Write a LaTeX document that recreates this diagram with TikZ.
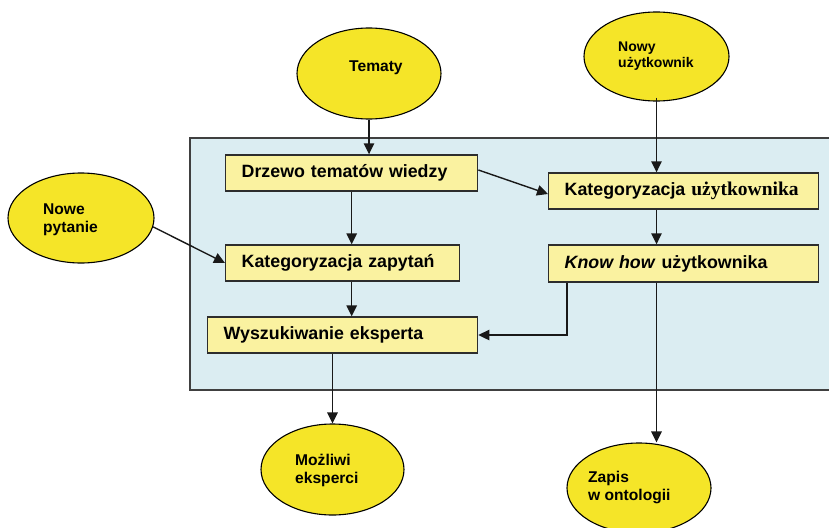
\documentclass[tikz,border=0pt]{standalone}
\usepackage{fontspec}
\setmainfont{Liberation Sans}
\newfontfamily\timesfont{Liberation Serif}
\usetikzlibrary{arrows.meta,shapes.geometric}

\definecolor{panelfill}{RGB}{219,237,242}
\definecolor{panelline}{RGB}{64,64,64}
\definecolor{boxfill}{RGB}{250,242,160}
\definecolor{boxline}{RGB}{45,45,45}
\definecolor{ovalfill}{RGB}{245,229,40}

\tikzset{
  panel/.style={draw=panelline, fill=panelfill, line width=1.5pt, anchor=north west, inner sep=0pt},
  stepbox/.style={draw=boxline, fill=boxfill, line width=1.4pt, anchor=west,
    minimum height=36pt, inner xsep=16pt, inner ysep=0pt, align=left,
    font=\bfseries\fontsize{17.8}{20}\selectfont},
  oval/.style={ellipse, draw=black, fill=ovalfill, line width=1.1pt, inner sep=0pt},
  % multi-line labels are placed by the baseline of their last line
  ovaltext/.style={anchor=base west, inner sep=0pt, align=left,
    font=\bfseries\fontsize{15.6}{18}\selectfont},
  arr/.style={draw=black!90, line width=1.4pt, -{Triangle[length=11pt,width=10.5pt]}},
}

\begin{document}
\begin{tikzpicture}[x=1pt, y=-1pt]
  \useasboundingbox (0,0) rectangle (829,527);

  % background panel of the system
  \node[panel, minimum width=660pt, minimum height=252pt] (panel) at (189,137) {};

  % process steps
  \node[stepbox, text width=220pt] (drzewo) at (225,173) {Drzewo tematów wiedzy};
  \node[stepbox, text width=202pt] (katzap) at (225,263) {Kategoryzacja zapytań};
  \node[stepbox, text width=238pt] (wysz) at (207,335) {Wyszukiwanie eksperta};
  \node[stepbox, text width=238pt] (katuz) at (548,191)
    {Kategoryzacja {\timesfont\fontsize{19.5}{20}\selectfont użytkownika}};
  \node[stepbox, text width=238pt, minimum height=37pt] (know) at (548,263.5)
    {\textit{Know how} użytkownika};

  % inputs and outputs
  \node[oval, minimum width=144pt, minimum height=91pt] (tematy) at (369,73.5) {};
  \node[ovaltext] (tematyt) at (349,71) {Tematy};

  \node[oval, minimum width=145pt, minimum height=89pt] (nowy) at (656.5,56.5) {};
  \node[ovaltext, font=\bfseries\fontsize{14}{15.5}\selectfont] (nowyt) at (618,67) {Nowy\\użytkownik};

  \node[oval, minimum width=146pt, minimum height=90pt] (nowe) at (81,218) {};
  \node[ovaltext] (nowet) at (43,232) {Nowe\\pytanie};

  \node[oval, minimum width=143pt, minimum height=91pt] (mozliwi) at (332.5,469.5) {};
  \node[ovaltext] (mozliwit) at (295,483) {Możliwi\\eksperci};

  \node[oval, minimum width=144pt, minimum height=90pt] (zapis) at (639,488) {};
  \node[ovaltext] (zapist) at (588,500) {Zapis\\w ontologii};

  % connectors
  \draw[arr] (tematy.south) -- (tematy.south |- drzewo.north);
  \draw[arr] ([yshift=4pt]nowy.south) -- (nowy.south |- katuz.north);
  \draw[arr] ([yshift=3pt]drzewo.east) -- ([yshift=-3pt]katuz.west);
  \draw[arr] (drzewo.south) -- (drzewo.south |- katzap.north);
  \draw[arr] (nowe.-7) -- (katzap.west);
  \draw[arr] (katzap.south -| drzewo.south) -- (wysz.north -| drzewo.south);
  \draw[arr] (katuz.south -| nowy.south) -- (know.north -| nowy.south);
  \draw[arr] ([xshift=19pt]know.south west) |- (wysz.east);
  \draw[arr] (know.south -| nowy.south) -- (nowy.south |- zapis.north);
  \draw[arr] (wysz.south -| mozliwi.north) -- (mozliwi.north);
\end{tikzpicture}
\end{document}
